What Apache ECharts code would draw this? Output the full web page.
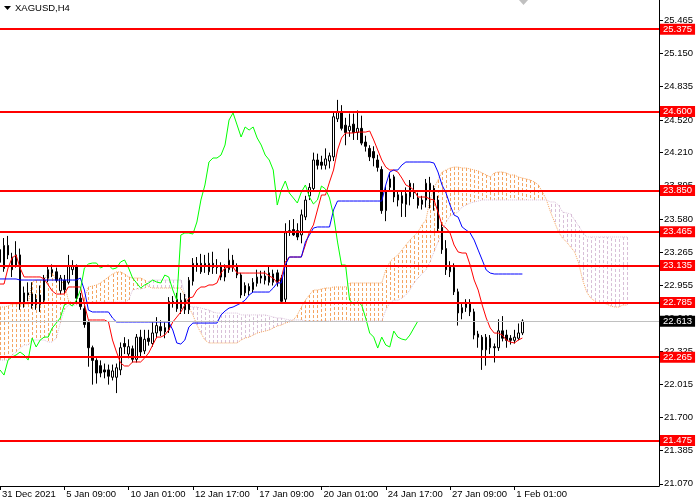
<!DOCTYPE html>
<html>
<head>
<meta charset="utf-8">
<script src="https://cdn.jsdelivr.net/npm/echarts@6.0.0/dist/echarts.min.js"></script>
<style>
html, body { margin: 0; padding: 0; background: #fff; }
#chart { width: 700px; height: 500px; }
</style>
</head>
<body>
<div id="chart"></div>
<script>
// XAGUSD H4 with Ichimoku
var symbolName = 'XAGUSD,H4';
var dateLabels = ['31 Dec 2021', '5 Jan 09:00', '10 Jan 01:00', '12 Jan 17:00', '17 Jan 09:00',
                  '20 Jan 01:00', '24 Jan 17:00', '27 Jan 09:00', '1 Feb 01:00'];
var barsPerLabel = 16;
var barCount = 165;                 // visible slots incl. the cloud shifted forward
var priceMin = 21.049, priceMax = 25.657;
var yTicks = [21.070, 21.385, 21.700, 22.015, 22.325, 22.640, 22.955, 23.265, 23.580,
              23.895, 24.210, 24.520, 24.835, 25.150, 25.465];
var levels = [25.375, 24.600, 23.850, 23.465, 23.135, 22.785, 22.265, 21.475];

// open, high, low, close
var ohlc = [
  [23.29,23.36,23.10,23.17],[23.11,23.40,23.08,23.33],[23.33,23.42,23.20,23.24],[23.22,23.26,23.03,23.10],
  [23.14,23.37,23.12,23.24],[23.24,23.30,22.72,22.78],[22.79,22.94,22.74,22.88],[22.88,22.98,22.80,22.86],
  [22.87,22.98,22.73,22.76],[22.82,22.87,22.72,22.77],[22.77,22.95,22.70,22.86],[22.81,23.05,22.78,23.02],
  [23.02,23.14,22.98,23.10],[23.10,23.15,23.03,23.07],[23.08,23.12,22.98,23.00],[22.90,23.05,22.87,23.02],
  [23.00,23.05,22.87,22.91],[22.98,23.24,22.96,23.14],[23.10,23.19,23.05,23.14],[23.14,23.15,22.78,22.83],
  [22.83,22.88,22.72,22.75],[22.73,22.76,22.55,22.58],[22.60,22.62,22.18,22.36],[22.36,22.38,22.01,22.24],
  [22.24,22.26,22.02,22.12],[22.19,22.24,22.08,22.12],[22.15,22.21,22.07,22.13],[22.15,22.20,22.01,22.09],
  [22.08,22.20,22.05,22.14],[22.08,22.21,21.93,22.17],[22.15,22.41,22.10,22.36],[22.40,22.46,22.30,22.37],
  [22.30,22.44,22.26,22.37],[22.35,22.38,22.22,22.25],[22.25,22.49,22.22,22.46],[22.46,22.53,22.28,22.32],
  [22.33,22.53,22.30,22.44],[22.45,22.53,22.38,22.42],[22.40,22.60,22.37,22.50],[22.50,22.65,22.45,22.57],
  [22.56,22.62,22.47,22.52],[22.55,22.60,22.45,22.51],[22.53,22.84,22.50,22.80],[22.80,22.85,22.74,22.78],
  [22.82,22.88,22.70,22.73],[22.73,22.88,22.68,22.81],[22.82,22.87,22.68,22.72],[22.72,23.03,22.68,23.00],
  [22.99,23.21,22.95,23.16],[23.16,23.22,23.08,23.14],[23.16,23.25,23.06,23.08],[23.14,23.24,23.07,23.16],
  [23.08,23.26,23.05,23.16],[23.16,23.27,23.06,23.12],[23.12,23.20,23.06,23.14],[23.14,23.17,23.00,23.03],
  [23.03,23.15,22.99,23.11],[23.10,23.30,23.07,23.19],[23.19,23.24,23.08,23.12],[23.13,23.16,23.02,23.05],
  [23.05,23.07,22.83,22.86],[22.88,22.98,22.85,22.95],[22.94,22.97,22.86,22.90],[22.91,23.02,22.88,22.98],
  [22.97,23.10,22.94,23.03],[23.02,23.09,22.97,23.04],[23.04,23.09,22.96,23.00],[22.98,23.14,22.95,23.07],
  [22.98,23.10,22.95,23.06],[23.07,23.10,22.94,22.98],[23.02,23.05,22.78,22.80],[22.82,23.54,22.78,23.45],
  [23.46,23.57,23.42,23.47],[23.48,23.58,23.42,23.43],[23.47,23.54,23.38,23.41],[23.43,23.67,23.35,23.62],
  [23.60,23.80,23.57,23.76],[23.80,23.92,23.76,23.88],[23.87,24.21,23.85,24.14],[24.14,24.20,24.05,24.09],
  [24.12,24.18,24.05,24.09],[24.09,24.25,24.05,24.15],[24.13,24.21,24.06,24.18],[24.17,24.59,24.13,24.55],
  [24.53,24.71,24.50,24.60],[24.60,24.66,24.42,24.44],[24.47,24.54,24.28,24.40],[24.42,24.58,24.36,24.46],
  [24.48,24.58,24.33,24.40],[24.40,24.61,24.33,24.44],[24.44,24.56,24.28,24.30],[24.31,24.37,24.22,24.27],
  [24.25,24.28,24.13,24.17],[24.22,24.27,24.08,24.16],[24.14,24.19,24.03,24.07],[24.05,24.08,23.63,23.66],
  [23.66,23.89,23.56,23.85],[23.88,24.02,23.85,23.96],[23.98,24.00,23.74,23.79],[23.81,23.84,23.70,23.76],
  [23.80,23.84,23.60,23.73],[23.82,23.88,23.60,23.72],[23.79,23.95,23.71,23.92],[23.85,23.92,23.77,23.83],
  [23.78,23.83,23.68,23.71],[23.76,23.80,23.67,23.72],[23.76,23.96,23.69,23.92],[23.84,23.98,23.68,23.92],
  [23.87,23.90,23.66,23.76],[23.76,23.80,23.45,23.49],[23.50,23.55,23.25,23.29],[23.30,23.38,23.05,23.10],
  [23.08,23.18,23.03,23.13],[23.12,23.16,22.86,22.89],[22.89,22.92,22.57,22.69],[22.69,22.79,22.63,22.74],
  [22.74,22.82,22.70,22.79],[22.79,22.82,22.66,22.70],[22.70,22.73,22.44,22.48],[22.49,22.52,22.36,22.46],
  [22.46,22.48,22.15,22.34],[22.34,22.49,22.19,22.46],[22.36,22.48,22.30,22.45],[22.37,22.40,22.22,22.36],
  [22.36,22.63,22.33,22.52],[22.52,22.66,22.42,22.45],[22.48,22.53,22.36,22.43],[22.45,22.48,22.39,22.43],
  [22.43,22.53,22.40,22.46],[22.45,22.59,22.43,22.50],[22.50,22.63,22.48,22.613]
];

var tenkan = [
  22.964,22.964,23.116,23.211,23.239,23.116,23.031,23.031,23.031,23.031,
  23.031,23.012,22.955,22.898,22.869,22.869,22.869,22.936,22.936,22.936,
  22.936,22.774,22.623,22.623,22.623,22.623,22.623,22.604,22.433,22.319,
  22.215,22.187,22.187,22.225,22.225,22.225,22.263,22.310,22.386,22.461,
  22.461,22.480,22.528,22.604,22.651,22.699,22.765,22.831,22.841,22.907,
  22.936,22.936,22.955,22.955,22.974,23.068,23.116,23.125,23.125,23.068,
  23.068,23.068,23.068,23.068,23.068,23.068,23.068,23.040,23.021,22.974,
  23.021,23.173,23.220,23.220,23.220,23.220,23.334,23.457,23.524,23.666,
  23.808,23.808,23.931,24.045,24.235,24.349,24.396,24.396,24.396,24.405,
  24.405,24.405,24.415,24.330,24.235,24.140,24.073,24.045,24.045,24.026,
  23.969,23.903,23.884,23.855,23.789,23.789,23.789,23.770,23.761,23.647,
  23.524,23.495,23.448,23.334,23.268,23.258,23.258,23.144,23.002,22.907,
  22.765,22.642,22.547,22.499,22.499,22.480,22.433,22.414,22.405,22.433,22.452
];

var kijun = [
  23.012,23.012,23.012,23.012,23.012,23.002,23.002,23.002,23.002,23.002,
  23.002,23.002,23.002,23.002,23.002,23.002,23.002,23.002,23.002,23.002,
  23.021,22.907,22.717,22.699,22.699,22.699,22.699,22.699,22.642,22.604,
  22.604,22.604,22.604,22.604,22.604,22.604,22.604,22.604,22.604,22.604,
  22.604,22.604,22.604,22.528,22.405,22.395,22.433,22.556,22.594,22.594,
  22.594,22.594,22.594,22.594,22.594,22.671,22.708,22.736,22.746,22.765,
  22.784,22.811,22.860,22.888,22.888,22.888,22.888,22.888,22.926,22.974,
  22.974,23.144,23.220,23.220,23.220,23.220,23.362,23.429,23.495,23.505,
  23.505,23.505,23.505,23.666,23.751,23.751,23.751,23.751,23.751,23.751,
  23.751,23.751,23.751,23.751,23.751,23.751,23.903,24.026,24.045,24.045,
  24.092,24.121,24.121,24.121,24.121,24.121,24.121,24.121,24.111,24.026,
  23.903,23.827,23.713,23.618,23.599,23.505,23.476,23.448,23.381,23.286,
  23.192,23.097,23.068,23.059,23.059,23.059,23.059,23.059,23.059,23.059,23.059
];

var chikou = [
  22.149,22.101,22.243,22.272,22.291,22.319,22.291,22.243,22.452,22.367,
  22.433,22.461,22.461,22.547,22.594,22.642,22.765,22.784,22.755,22.811,
  22.907,23.116,23.154,23.163,23.163,23.116,23.135,23.144,23.106,23.116,
  23.173,23.192,23.116,23.021,22.974,22.926,22.955,22.974,23.002,22.983,
  22.974,23.049,23.031,22.907,22.811,23.429,23.448,23.448,23.438,23.552,
  23.761,23.903,24.121,24.159,24.159,24.187,24.282,24.519,24.586,24.472,
  24.358,24.453,24.424,24.453,24.349,24.282,24.187,24.140,24.045,23.713,
  23.855,23.941,23.827,23.780,23.732,23.836,23.903,23.789,23.723,23.761,
  23.893,23.865,23.780,23.618,23.362,23.144,23.144,22.811,22.774,22.793,
  22.765,22.642,22.499,22.461,22.357,22.461,22.386,22.367,22.518,22.461,
  22.442,22.433,22.480,22.547,22.613
];

var senkouA = [
  22.746,22.746,22.755,22.774,22.774,22.774,22.774,22.774,22.983,23.002,
  23.002,23.002,23.068,23.068,23.002,22.983,22.974,22.811,22.784,22.784,
  22.811,22.831,22.936,22.945,22.955,22.974,23.002,23.031,23.059,23.078,
  23.078,23.059,23.031,23.021,23.021,23.021,23.002,22.936,22.926,22.926,
  22.926,22.926,22.926,22.926,22.926,22.926,22.850,22.745,22.671,22.575,
  22.499,22.433,22.405,22.405,22.405,22.405,22.405,22.405,22.405,22.405,
  22.433,22.452,22.461,22.480,22.499,22.509,22.518,22.528,22.547,22.566,
  22.575,22.594,22.604,22.623,22.671,22.746,22.811,22.860,22.907,22.907,
  22.917,22.926,22.926,22.936,22.936,22.936,22.936,22.974,22.974,22.974,
  22.974,22.974,22.974,22.974,22.974,22.974,23.097,23.173,23.211,23.239,
  23.286,23.334,23.381,23.419,23.457,23.524,23.571,23.761,23.874,23.950,
  24.026,24.045,24.064,24.073,24.073,24.064,24.064,24.055,24.045,24.036,
  24.017,23.998,23.979,24.017,24.026,24.026,24.017,23.998,23.998,23.979,
  23.969,23.960,23.950,23.931,23.903,23.836,23.761,23.647,23.552,23.457,
  23.400,23.362,23.315,23.268,23.163,23.002,22.888,22.831,22.803,22.784,
  22.784,22.774,22.755,22.746,22.746,22.765,22.765
];

var senkouB = [
  22.243,22.243,22.243,22.291,22.319,22.357,22.386,22.386,22.433,22.433,
  22.433,22.433,22.414,22.414,22.452,22.594,22.717,22.765,22.765,22.765,
  22.784,22.793,22.793,22.793,22.793,22.793,22.793,22.793,22.793,22.793,
  22.793,22.793,22.811,22.907,22.917,22.917,22.926,22.993,23.002,23.002,
  23.002,23.002,23.002,23.002,23.002,23.002,22.870,22.755,22.746,22.746,
  22.736,22.727,22.717,22.699,22.689,22.689,22.689,22.689,22.689,22.689,
  22.671,22.671,22.671,22.671,22.671,22.671,22.671,22.661,22.651,22.642,
  22.642,22.632,22.623,22.623,22.623,22.623,22.613,22.613,22.613,22.613,
  22.613,22.613,22.613,22.613,22.613,22.613,22.613,22.613,22.613,22.613,
  22.613,22.613,22.613,22.613,22.613,22.613,22.717,22.784,22.811,22.811,
  22.831,22.860,22.907,22.974,23.021,23.059,23.097,23.173,23.268,23.362,
  23.457,23.552,23.609,23.628,23.647,23.694,23.713,23.732,23.742,23.751,
  23.761,23.761,23.761,23.761,23.761,23.761,23.761,23.761,23.761,23.761,
  23.761,23.761,23.761,23.761,23.761,23.761,23.761,23.742,23.742,23.713,
  23.647,23.638,23.628,23.571,23.514,23.457,23.410,23.410,23.410,23.410,
  23.410,23.410,23.410,23.410,23.410,23.410,23.410
];

var FONT = 'Liberation Sans';
var categories = [];
for (var i = 0; i < barCount; i++) categories.push(String(i));

function isLabelBar(idx) {
    return idx % barsPerLabel === 0 && idx / barsPerLabel < dateLabels.length;
}

// echarts candlestick wants open, close, low, high
var candleData = ohlc.map(function (r) { return [r[0], r[3], r[2], r[1]]; });
var cloudData = senkouA.map(function (a, k) { return [k, a, senkouB[k]]; });
var lastPrice = ohlc[ohlc.length - 1][3];

var levelLines = levels.map(function (v) {
    return { yAxis: v, name: v.toFixed(3), lineStyle: { color: '#FF0000', width: 2, type: 'solid' } };
});
levelLines.push({
    yAxis: lastPrice,
    name: lastPrice.toFixed(3),
    lineStyle: { color: '#C0C0C0', width: 1, type: 'solid' },
    label: { backgroundColor: '#000000' }
});

var myChart = echarts.init(document.getElementById('chart'));
myChart.setOption({
    animation: false,
    backgroundColor: '#ffffff',
    grid: {
        left: 0,
        right: 41,
        top: 0,
        bottom: 14,
        containLabel: false,
        outerBoundsMode: 'none'
    },
    graphic: [
        { type: 'polygon', shape: { points: [[4, 6], [11, 6], [7.5, 10]] }, style: { fill: '#000' } },
        { type: 'text', left: 15, top: 3, style: { text: symbolName, font: '9.5px "Liberation Sans"', fill: '#000' } },
        // chart shift marker
        { type: 'polygon', shape: { points: [[519, 0], [528, 0], [523.5, 5]] }, style: { fill: '#C0C0C0' } }
    ],
    xAxis: {
        type: 'category',
        data: categories,
        boundaryGap: false,
        axisLine: { lineStyle: { color: '#000', width: 1 } },
        axisTick: {
            interval: function (idx) { return isLabelBar(idx); },
            length: 4,
            lineStyle: { color: '#000' }
        },
        axisLabel: {
            interval: function (idx) { return isLabelBar(idx); },
            formatter: function (v, idx) { return dateLabels[idx / barsPerLabel] || ''; },
            align: 'left',
            margin: 3,
            padding: [0, 0, 0, 2],
            color: '#000',
            fontFamily: FONT,
            fontSize: 9.5
        },
        splitLine: { show: false }
    },
    yAxis: {
        type: 'value',
        position: 'right',
        min: priceMin,
        max: priceMax,
        scale: true,
        axisLine: { show: true, lineStyle: { color: '#000', width: 1 } },
        axisTick: { show: true, length: 4, customValues: yTicks, lineStyle: { color: '#000' } },
        axisLabel: {
            customValues: yTicks,
            formatter: function (v) { return v.toFixed(3); },
            margin: 5,
            padding: [4, 0, 0, 0],
            color: '#000',
            fontFamily: FONT,
            fontSize: 9.5
        },
        splitLine: { show: false }
    },
    series: [
        {
            // kumo drawn as dotted vertical strokes, one per bar
            type: 'custom',
            data: cloudData,
            encode: { x: 0, y: [1, 2] },
            silent: true,
            z: 1,
            renderItem: function (params, api) {
                var a = api.value(1), b = api.value(2);
                var p1 = api.coord([api.value(0), a]);
                var p2 = api.coord([api.value(0), b]);
                var x = Math.round(p1[0]) + 0.5;
                return {
                    type: 'line',
                    shape: { x1: x, y1: p1[1], x2: x, y2: p2[1] },
                    style: {
                        stroke: a >= b ? '#F4A460' : '#D8BFD8',
                        lineWidth: 1,
                        lineDash: [3, 2]
                    }
                };
            }
        },
        {
            name: 'Senkou A', type: 'line', data: senkouA, showSymbol: false, silent: true, z: 1,
            lineStyle: { color: '#F4A460', width: 1, type: 'dotted' }
        },
        {
            name: 'Senkou B', type: 'line', data: senkouB, showSymbol: false, silent: true, z: 1,
            lineStyle: { color: '#D8BFD8', width: 1, type: 'dotted' }
        },
        {
            type: 'candlestick',
            data: candleData,
            barWidth: 2,
            z: 3,
            itemStyle: {
                color: '#ffffff',
                color0: '#000000',
                borderColor: '#000000',
                borderColor0: '#000000',
                borderWidth: 1
            }
        },
        {
            name: 'Tenkan', type: 'line', data: tenkan, showSymbol: false, silent: true, z: 4,
            lineStyle: { color: '#FF0000', width: 1 }
        },
        {
            name: 'Kijun', type: 'line', data: kijun, showSymbol: false, silent: true, z: 4,
            lineStyle: { color: '#0000FF', width: 1 }
        },
        {
            name: 'Chikou', type: 'line', data: chikou, showSymbol: false, silent: true, z: 4,
            lineStyle: { color: '#00FF00', width: 1 }
        },
        {
            // horizontal levels + bid line
            type: 'line',
            data: [],
            z: 5,
            markLine: {
                silent: true,
                symbol: ['none', 'none'],
                animation: false,
                label: {
                    show: true,
                    position: 'end',
                    distance: 1,
                    formatter: function (p) { return p.name; },
                    color: '#ffffff',
                    backgroundColor: '#FF0000',
                    padding: [1, 3, 0, 3],
                    lineHeight: 10,
                    fontFamily: FONT,
                    fontSize: 9.5
                },
                data: levelLines
            }
        }
    ]
});
</script>
</body>
</html>
